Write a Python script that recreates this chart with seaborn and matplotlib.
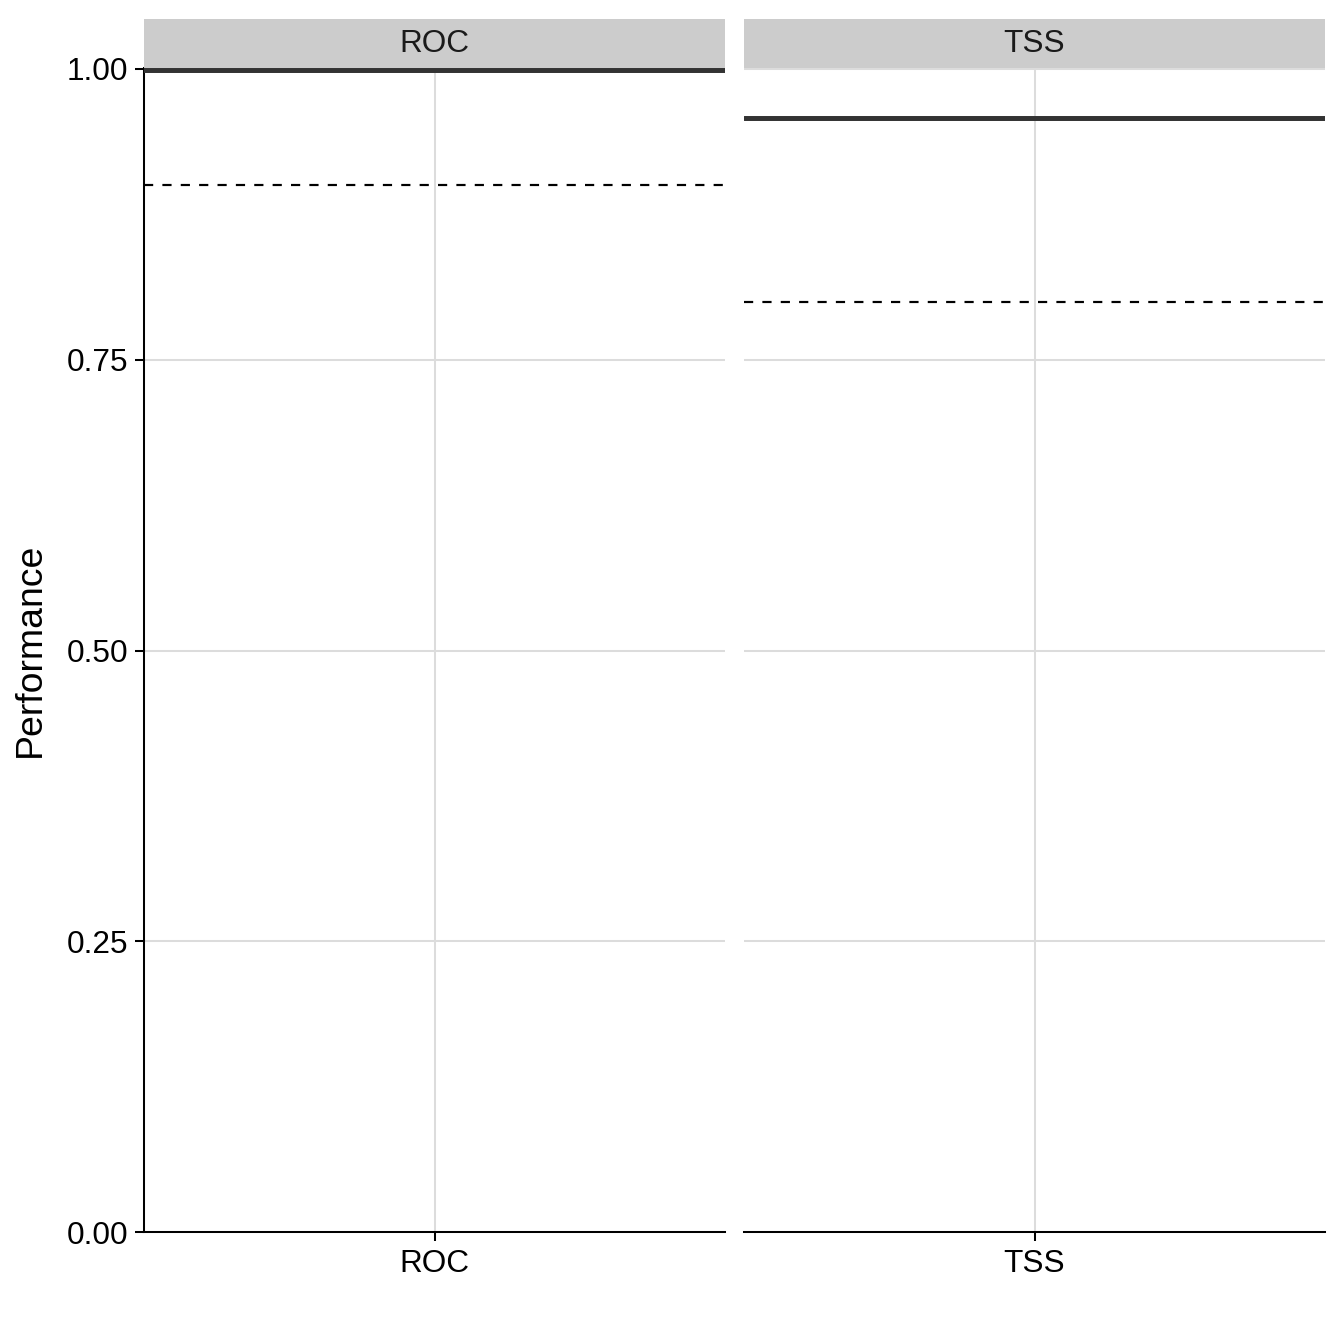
import numpy as np
import pandas as pd
import matplotlib
matplotlib.use("Agg")
import matplotlib.pyplot as plt
import seaborn as sns

# data
metrics = ["ROC", "TSS"]
performance = [0.999, 0.958]
threshold = [0.90, 0.80]
y_ticks = [0.00, 0.25, 0.50, 0.75, 1.00]

df = pd.DataFrame({"metric": metrics, "performance": performance, "threshold": threshold})

sns.set_theme(style="white")
plt.rcParams["font.family"] = ["Liberation Sans", "DejaVu Sans"]

W = H = 1344
fig = plt.figure(figsize=(6.4, 6.4), dpi=210)

# panel geometry in pixels
panel_left = [144, 744]
panel_w = 581
panel_top, panel_bottom = 68, 1232
strip_top = 19

for i, m in enumerate(metrics):
    sub = df[df["metric"] == m]
    ax = fig.add_axes([panel_left[i] / W, 1 - panel_bottom / H,
                       panel_w / W, (panel_bottom - panel_top) / H])
    sns.stripplot(data=sub, x="metric", y="performance", ax=ax, size=0, color="black")
    for _, row in sub.iterrows():
        ax.axhline(row["performance"], color="#333333", lw=1.7, zorder=3)
        ax.axhline(row["threshold"], color="black", lw=0.75, ls=(0, (4.2, 4.2)), zorder=3)

    ax.set_xlim(-0.5, 0.5)
    ax.set_ylim(0, 1 + 1 / 1163)
    ax.set_yticks(y_ticks)
    ax.grid(True, color="#dcdcdc", lw=0.7, zorder=0)
    ax.set_axisbelow(True)
    ax.set_xlabel("")
    for s in ["top", "right"]:
        ax.spines[s].set_visible(False)
    ax.spines["bottom"].set_color("black")
    ax.spines["bottom"].set_linewidth(0.7)
    ax.tick_params(axis="x", length=3, width=0.7, color="black", labelsize=10.8,
                   labelcolor="black", pad=3, bottom=True)
    if i == 0:
        ax.spines["left"].set_color("black")
        ax.spines["left"].set_linewidth(0.7)
        ax.set_yticklabels([f"{t:.2f}" for t in y_ticks])
        ax.tick_params(axis="y", length=3, width=0.7, color="black", labelsize=10.8,
                       labelcolor="black", pad=2.4, left=True)
        ax.set_ylabel("Performance", fontsize=12.8, color="black")
        ax.yaxis.set_label_coords(-0.165, 0.5)
    else:
        ax.spines["left"].set_visible(False)
        ax.set_ylabel("")
        ax.tick_params(axis="y", left=False, labelleft=False)

    # facet strip
    sax = fig.add_axes([panel_left[i] / W, 1 - panel_top / H,
                        panel_w / W, (panel_top - strip_top) / H])
    sax.set_facecolor("#cccccc")
    sax.set_xticks([])
    sax.set_yticks([])
    for s in sax.spines.values():
        s.set_visible(False)
    sax.text(0.5, 0.5, m, ha="center", va="center", fontsize=10.8, color="#1a1a1a",
             transform=sax.transAxes)

fig.savefig("out.png", dpi=210, facecolor="white")
